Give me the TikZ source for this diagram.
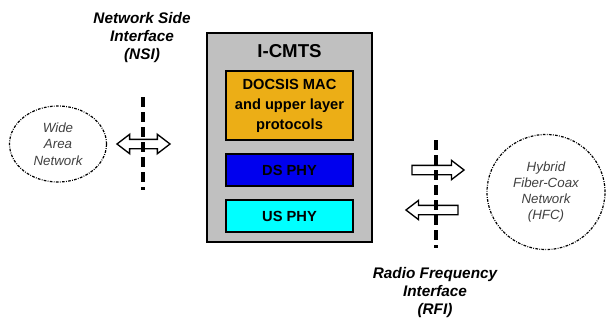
\documentclass[tikz,border=0pt]{standalone}
\usepackage{fontspec}
\setmainfont{Liberation Sans}
\usetikzlibrary{positioning, shapes.geometric, shapes.arrows}

\definecolor{cmtsgray}{RGB}{192,192,192}
\definecolor{macorange}{RGB}{236,174,22}
\definecolor{dsblue}{RGB}{0,0,238}
\definecolor{uscyan}{RGB}{0,255,255}
\definecolor{nettext}{RGB}{64,64,64}

\begin{document}
\begin{tikzpicture}[x=0.75pt, y=-0.75pt, node distance=9.5pt, thick,
    block/.style={draw, line width=1pt, minimum width=95.25pt, minimum height=24pt, inner sep=0pt, align=center, font=\bfseries\fontsize{11}{15}\selectfont},
    cloud/.style={ellipse, draw, line width=0.9pt, dash pattern=on 2pt off 1pt on 0.6pt off 1pt, inner sep=0pt, align=center, text=nettext, font=\itshape\fontsize{10}{12.2}\selectfont},
    iface/.style={align=center, font=\bfseries\itshape\fontsize{11.5}{13.5}\selectfont},
    boundary/.style={line width=2.4pt, dash pattern=on 7.5pt off 3.75pt},
    flow/.style={draw, fill=white, line width=1pt, inner sep=3pt}
  ]
    \useasboundingbox (0,0) rectangle (606,321);

    % Nodes
    \node[draw, fill=cmtsgray, line width=1.5pt, minimum width=123.75pt, minimum height=156.75pt] (cmts) at (289.5,137.5) {};
    \node[font=\bfseries\fontsize{14}{16}\selectfont] (cmtslabel) at (289.5,51) {I-CMTS};
    \node[block, fill=macorange, minimum height=51.75pt] (mac) at (289.5,105.5) {DOCSIS MAC\\and upper layer\\protocols};
    \node[block, fill=dsblue, below=of mac] (dsphy) {DS PHY};
    \node[block, fill=uscyan, below=of dsphy] (usphy) {US PHY};

    \node[cloud, minimum width=72.75pt, minimum height=57pt] (wan) at (58,144) {Wide\\Area\\Network};
    \node[cloud, minimum width=88.5pt, minimum height=86.25pt] (hfc) at (546,192) {Hybrid\\Fiber-Coax\\Network\\(HFC)};

    \node[iface] (nsi) at (142,38) {Network Side\\Interface\\(NSI)};
    \node[iface] (rfi) at (435,293) {Radio Frequency\\Interface\\(RFI)};

    \coordinate (nsitop) at (143,97);
    \coordinate (nsibot) at (143,190);
    \coordinate (rfitop) at (436,140);
    \coordinate (rfibot) at (436,248);

    % Arrows
    \node[flow, double arrow, double arrow head extend=3.75pt, double arrow tip angle=75, minimum height=39.75pt] (wanflow) at (143.5,144) {};
    \node[flow, single arrow, single arrow head extend=3.75pt, single arrow tip angle=75, minimum height=39pt] (dsflow) at (435,170) {};
    \node[flow, single arrow, single arrow head extend=3.75pt, single arrow tip angle=75, minimum height=39pt, shape border rotate=180] (usflow) at (435,210) {};

    % Paths
    \draw[boundary] (nsitop) -- (nsibot);
    \draw[boundary] (rfitop) -- (rfibot);
\end{tikzpicture}
\end{document}
